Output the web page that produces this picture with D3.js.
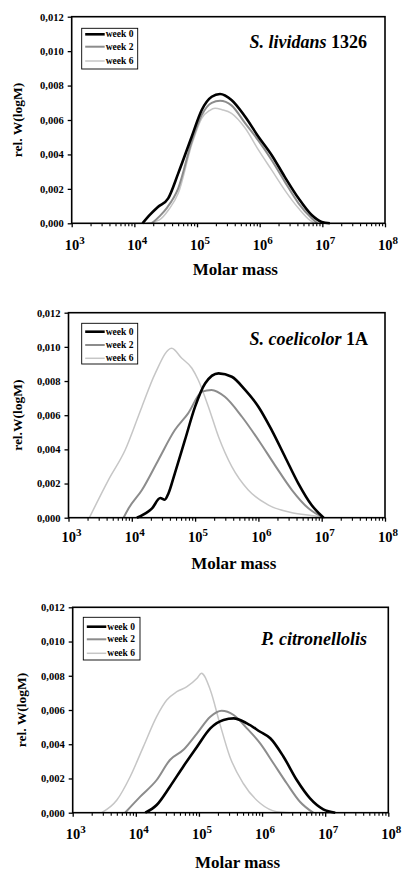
<!DOCTYPE html>
<html>
<head>
<meta charset="utf-8">
<script src="https://cdn.jsdelivr.net/npm/d3@7/dist/d3.min.js"></script>
<style>
  html, body { margin: 0; padding: 0; background: #fff; }
  svg { display: block; }
  text { font-family: "Liberation Serif", "Times New Roman", serif; font-weight: bold; fill: #000; }
</style>
</head>
<body>
<svg id="chart" width="416" height="882"></svg>
<script>
// ---------- data ----------
const massExponents = [3, 4, 5, 6, 7, 8];
const yTickValues = [0, 0.002, 0.004, 0.006, 0.008, 0.010, 0.012];
const yTickLabels = ["0,000", "0,002", "0,004", "0,006", "0,008", "0,010", "0,012"];
const seriesNames = ["week 0", "week 2", "week 6"];

// Panel 1: S. lividans 1326  (log10 molar mass, rel. W(logM))
const lividansW0Log = [4.13, 4.25, 4.38, 4.54, 4.70, 4.915, 5.075, 5.234, 5.367, 5.55, 5.766, 5.98, 6.19, 6.40, 6.62, 6.83, 6.99, 7.12];
const lividansW0Val = [0, 0.0005, 0.00096, 0.00145, 0.0029, 0.00503, 0.00658, 0.00735, 0.00751, 0.00716, 0.0062, 0.00503, 0.00397, 0.0027, 0.00145, 0.00048, 0.00008, 0];
const lividansW2Log = [4.28, 4.40, 4.52, 4.70, 4.915, 5.075, 5.234, 5.367, 5.55, 5.77, 5.98, 6.19, 6.40, 6.62, 6.83, 6.92];
const lividansW2Val = [0, 0.0004, 0.0009, 0.00203, 0.00474, 0.00629, 0.00700, 0.00712, 0.00685, 0.0058, 0.0048, 0.00368, 0.00242, 0.00116, 0.00029, 0];
const lividansW6Log = [4.20, 4.40, 4.55, 4.70, 4.915, 5.075, 5.20, 5.287, 5.40, 5.55, 5.77, 5.98, 6.19, 6.40, 6.62, 6.80, 6.88];
const lividansW6Val = [0, 0.0002, 0.0008, 0.00174, 0.00456, 0.0061, 0.00655, 0.00668, 0.0066, 0.00639, 0.00552, 0.00426, 0.0031, 0.00193, 0.00087, 0.00018, 0];

// Panel 2: S. coelicolor 1A
const coelicolorW0Log = [4.08, 4.32, 4.45, 4.52, 4.58, 4.68, 4.84, 5.0, 5.16, 5.37, 5.58, 5.79, 6.0, 6.21, 6.42, 6.63, 6.84, 7.03];
const coelicolorW0Val = [0, 0.00055, 0.00115, 0.00105, 0.00143, 0.0026, 0.00455, 0.0065, 0.00787, 0.00845, 0.00825, 0.00748, 0.0065, 0.00513, 0.00357, 0.00201, 0.00074, 0];
const coelicolorW2Log = [3.87, 3.95, 4.16, 4.42, 4.68, 4.89, 5.11, 5.26, 5.47, 5.74, 6.0, 6.26, 6.53, 6.79, 7.03];
const coelicolorW2Val = [0, 0.00055, 0.00162, 0.00338, 0.00513, 0.00611, 0.00738, 0.00748, 0.00708, 0.00591, 0.00455, 0.00308, 0.00162, 0.00055, 0];
const coelicolorW6Log = [3.33, 3.63, 3.895, 4.16, 4.37, 4.63, 4.79, 4.95, 5.05, 5.21, 5.37, 5.58, 5.84, 6.16, 6.53, 6.9, 7.05];
const coelicolorW6Val = [0, 0.0022, 0.00396, 0.0065, 0.00845, 0.00992, 0.00933, 0.00875, 0.00806, 0.0065, 0.00474, 0.00299, 0.00162, 0.00074, 0.00029, 0.0001, 0];

// Panel 3: P. citronellolis
const citronellolisW0Log = [4.15, 4.33, 4.54, 4.75, 4.97, 5.18, 5.39, 5.55, 5.76, 5.97, 6.13, 6.34, 6.55, 6.76, 6.97, 7.16];
const citronellolisW0Val = [0, 0.00045, 0.00152, 0.00269, 0.00386, 0.00493, 0.00542, 0.00551, 0.00522, 0.00473, 0.00435, 0.00327, 0.00191, 0.00084, 0.0002, 0];
const citronellolisW2Log = [3.83, 4.07, 4.33, 4.54, 4.75, 4.97, 5.18, 5.36, 5.55, 5.76, 5.97, 6.18, 6.39, 6.60, 6.81];
const citronellolisW2Val = [0, 0.00094, 0.00191, 0.00308, 0.00366, 0.00464, 0.00561, 0.00596, 0.00571, 0.00493, 0.00405, 0.00289, 0.00172, 0.00064, 0];
const citronellolisW6Log = [3.46, 3.70, 3.91, 4.12, 4.33, 4.49, 4.65, 4.81, 4.97, 5.04, 5.18, 5.33, 5.49, 5.70, 5.97, 6.23, 6.44];
const citronellolisW6Val = [0, 0.00074, 0.0021, 0.00386, 0.00561, 0.00658, 0.00707, 0.00736, 0.00785, 0.00814, 0.00717, 0.00522, 0.00327, 0.00172, 0.00055, 0.00006, 0];

// ---------- layout / style ----------
const seriesStyle = [
  { color: "#000000", width: 2.6 },
  { color: "#8c8c8c", width: 2.0 },
  { color: "#c6c6c6", width: 1.5 }
];

const panels = [
  { left: 71.7, right: 385, top: 16.7, bottom: 223.3,
    italic: "S. lividans", plain: " 1326", titleRight: 367, titleY: 48,
    yTitle: "rel. W(logM)", yTitleX: 17, xLabelDy: 27, xTitleDy: 52,
    legend: { x: 81.7, y: 28.3, w: 56, h: 40.7, rows: [34.3, 46.7, 61] },
    series: [[lividansW0Log, lividansW0Val], [lividansW2Log, lividansW2Val], [lividansW6Log, lividansW6Val]] },
  { left: 68.5, right: 385, top: 312.7, bottom: 517.7,
    italic: "S. coelicolor", plain: " 1A", titleRight: 368, titleY: 345,
    yTitle: "rel.W(logM)", yTitleX: 17, xLabelDy: 24, xTitleDy: 51,
    legend: { x: 81.7, y: 323.3, w: 56, h: 40.7, rows: [331.7, 345, 358.3] },
    series: [[coelicolorW0Log, coelicolorW0Val], [coelicolorW2Log, coelicolorW2Val], [coelicolorW6Log, coelicolorW6Val]] },
  { left: 72.7, right: 388.3, top: 607.3, bottom: 812.7,
    italic: "P. citronellolis", plain: "", titleRight: 367, titleY: 645,
    yTitle: "rel. W(logM)", yTitleX: 21, xLabelDy: 26, xTitleDy: 55,
    legend: { x: 83.3, y: 617.3, w: 56.7, h: 42.7, rows: [626.7, 639.3, 653.3] },
    series: [[citronellolisW0Log, citronellolisW0Val], [citronellolisW2Log, citronellolisW2Val], [citronellolisW6Log, citronellolisW6Val]] }
];

const svg = d3.select("#chart");

panels.forEach(p => {
  const x = d3.scaleLog().domain([1e3, 1e8]).range([p.left, p.right]);
  const y = d3.scaleLinear().domain([0, 0.012]).range([p.bottom, p.top]);
  const g = svg.append("g");

  // curves
  const line = d3.line()
    .x(d => x(d[0]))
    .y(d => y(d[1]))
    .curve(d3.curveMonotoneX);

  // draw lightest first so the black line is on top
  [2, 1, 0].forEach(i => {
    const [logs, vals] = p.series[i];
    const pts = logs.map((l, k) => [Math.pow(10, l), vals[k]]);
    g.append("path")
      .attr("d", line(pts))
      .attr("fill", "none")
      .attr("stroke", seriesStyle[i].color)
      .attr("stroke-width", seriesStyle[i].width)
      .attr("stroke-linejoin", "round");
  });

  // frame
  g.append("rect")
    .attr("x", p.left).attr("y", p.top)
    .attr("width", p.right - p.left).attr("height", p.bottom - p.top)
    .attr("fill", "none").attr("stroke", "#000").attr("stroke-width", 1.6);

  // y axis
  const yAxis = d3.axisLeft(y)
    .tickValues(yTickValues)
    .tickSize(4)
    .tickPadding(4)
    .tickFormat((d, i) => yTickLabels[i]);
  const ya = g.append("g").attr("transform", `translate(${p.left},0)`).call(yAxis);
  ya.select(".domain").remove();
  ya.selectAll("line").attr("stroke", "#000").attr("stroke-width", 1.3);
  ya.selectAll("text")
    .style("font-family", '"Liberation Serif", serif')
    .style("font-weight", "bold")
    .style("font-size", "10.5px");

  // x axis: major + minor ticks
  const minorTicks = [];
  for (let e = 3; e < 8; e++) for (let m = 2; m <= 9; m++) minorTicks.push(m * Math.pow(10, e));
  const majorTicks = massExponents.map(e => Math.pow(10, e));

  const xMinor = g.append("g").attr("transform", `translate(0,${p.bottom})`)
    .call(d3.axisBottom(x).tickValues(minorTicks).tickSize(3).tickFormat(""));
  xMinor.select(".domain").remove();
  xMinor.selectAll("line").attr("stroke", "#000").attr("stroke-width", 1.1);

  const xMajor = g.append("g").attr("transform", `translate(0,${p.bottom})`)
    .call(d3.axisBottom(x).tickValues(majorTicks).tickSize(4).tickFormat(""));
  xMajor.select(".domain").remove();
  xMajor.selectAll("line").attr("stroke", "#000").attr("stroke-width", 1.3);

  // x tick labels 10^n
  massExponents.forEach(e => {
    const t = g.append("text")
      .attr("x", x(Math.pow(10, e)) + 3)
      .attr("y", p.bottom + p.xLabelDy)
      .attr("text-anchor", "middle")
      .style("font-size", "14.5px");
    t.append("tspan").text("10");
    t.append("tspan").attr("dy", -6).style("font-size", "11px").text(String(e));
  });

  // x title
  g.append("text")
    .attr("x", (p.left + p.right) / 2 + 7)
    .attr("y", p.bottom + p.xTitleDy)
    .attr("text-anchor", "middle")
    .style("font-size", "17px")
    .text("Molar mass");

  // y title
  g.append("text")
    .attr("transform", `translate(${p.yTitleX},${(p.top + p.bottom) / 2}) rotate(-90)`)
    .attr("text-anchor", "middle")
    .attr("dy", "0.35em")
    .style("font-size", "13.5px")
    .text(p.yTitle);

  // panel title
  const tt = g.append("text")
    .attr("x", p.titleRight)
    .attr("y", p.titleY)
    .attr("text-anchor", "end")
    .style("font-size", "18px");
  tt.append("tspan").style("font-style", "italic").text(p.italic);
  if (p.plain) tt.append("tspan").text(p.plain);

  // legend
  const L = p.legend;
  g.append("rect")
    .attr("x", L.x).attr("y", L.y).attr("width", L.w).attr("height", L.h)
    .attr("fill", "#fff").attr("stroke", "#000").attr("stroke-width", 0.9);
  seriesNames.forEach((name, i) => {
    g.append("line")
      .attr("x1", L.x + 3.5).attr("x2", L.x + 23)
      .attr("y1", L.rows[i]).attr("y2", L.rows[i])
      .attr("stroke", seriesStyle[i].color)
      .attr("stroke-width", seriesStyle[i].width);
    g.append("text")
      .attr("x", L.x + 24)
      .attr("y", L.rows[i])
      .attr("dy", "0.32em")
      .style("font-size", "9.5px")
      .text(name);
  });
});
</script>
</body>
</html>
